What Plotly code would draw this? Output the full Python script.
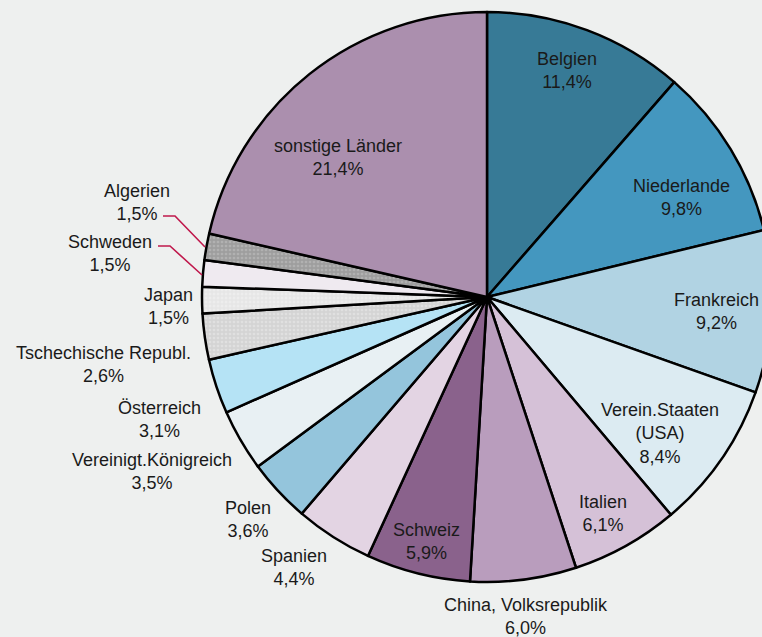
import plotly.graph_objects as go

# ---- data ----
countries = ["Belgien", "Niederlande", "Frankreich", "Verein.Staaten<br>(USA)", "Italien",
             "China, Volksrepublik", "Schweiz", "Spanien", "Polen", "Vereinigt.Königreich",
             "Österreich", "Tschechische Republ.", "Japan", "Schweden", "Algerien",
             "sonstige Länder"]
shares = [11.4, 9.8, 9.2, 8.4, 6.1, 6.0, 5.9, 4.4, 3.6, 3.5, 3.1, 2.6, 1.5, 1.5, 1.5, 21.4]
share_labels = ["11,4%", "9,8%", "9,2%", "8,4%", "6,1%", "6,0%", "5,9%", "4,4%", "3,6%",
                "3,5%", "3,1%", "2,6%", "1,5%", "1,5%", "1,5%", "21,4%"]

# ---- styling ----
colors = ["#377a96", "#4497bf", "#b1d3e3", "#dcebf2", "#d5c1d7", "#b99dbd", "#8a628c",
          "#e3d4e3", "#94c5dc", "#e8f0f3", "#b5e3f5", "#d4d4d4", "#e6e6e6", "#efeaf0",
          "#9e9e9e", "#ab8fae"]
pat_shape = ["", "", "", "", "", "", "", "", "", "", "", ".", ".", "", ".", ""]
pat_fg = ["#000"] * 16
pat_fg[11] = "#ececec"
pat_fg[12] = "#f3f3f3"
pat_fg[14] = "#c4c4c4"

W, H = 800, 637
CX, CY, R = 487, 297, 285

# label block centres in pixels (text positions only)
label_pos = [(567, 71), (681, 197), (716, 311), (660, 433), (603, 513), (526, 616),
             (427, 541), (294, 567), (248, 519), (152, 471), (159, 419), (103, 364),
             (168, 306), (110, 254), (137, 202), (338, 158)]

fig = go.Figure()
fig.add_trace(go.Pie(
    labels=countries, values=shares, sort=False, direction="clockwise",
    textinfo="none", hoverinfo="label+value",
    marker=dict(colors=colors, line=dict(color="#000000", width=2.5),
                pattern=dict(shape=pat_shape, fgcolor=pat_fg, size=4, solidity=0.35,
                             fillmode="overlay")),
    domain=dict(x=[(CX - R) / W, (CX + R) / W],
                y=[(H - CY - R) / H, (H - CY + R) / H]),
    showlegend=False,
))

for name, lab, (px, py) in zip(countries, share_labels, label_pos):
    fig.add_annotation(x=px / W, y=1 - py / H, xref="paper", yref="paper",
                       text=f"{name}<br>{lab}", showarrow=False,
                       font=dict(family="Liberation Sans, Arial, sans-serif", size=18,
                                 color="#1a1a1a"),
                       align="center", xanchor="center", yanchor="middle")

# leader lines for Algerien and Schweden
leaders = [[(163, 216), (175, 216), (205, 247)],
           [(158, 246), (170, 246), (202, 275)]]
for pts in leaders:
    path = "M " + " L ".join(f"{x / W},{1 - y / H}" for x, y in pts)
    fig.add_shape(type="path", path=path, xref="paper", yref="paper",
                  line=dict(color="#c0184c", width=1.6))

fig.update_layout(width=W, height=H, margin=dict(l=0, r=0, t=0, b=0),
                  paper_bgcolor="#eef0ef", plot_bgcolor="#eef0ef")

fig.write_html("out.html",
               post_script="document.documentElement.style.overflow='hidden';document.body.style.overflow='hidden';document.body.style.margin='0';")
